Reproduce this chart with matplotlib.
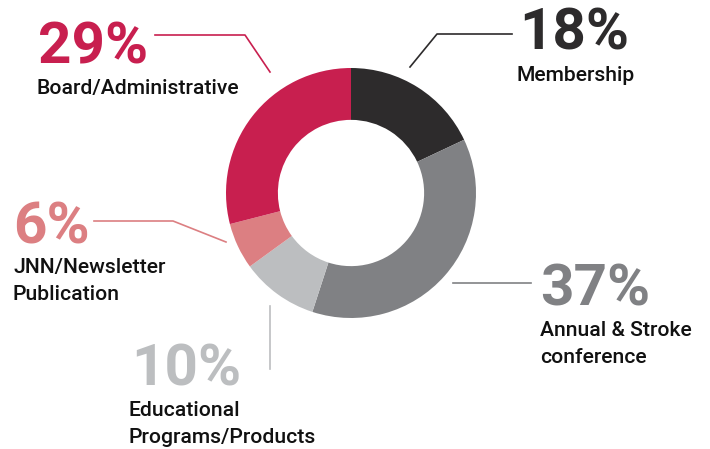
import matplotlib
matplotlib.use("Agg")
import matplotlib.pyplot as plt

# expense share per category (clockwise from 12 o'clock)
categories = ["Membership", "Annual & Stroke\nconference", "Educational\nPrograms/Products",
              "JNN/Newsletter\nPublication", "Board/Administrative"]
shares = [18, 37, 10, 6, 29]
colors = ["#2d2b2c", "#808184", "#bcbec0", "#dc7f82", "#c81f4f"]

plt.rcParams['font.family'] = ['Roboto', 'DejaVu Sans']

W, H = 710, 449
fig = plt.figure(figsize=(W / 100, H / 100), dpi=100)
ax = fig.add_axes([0, 0, 1, 1])
ax.set_xlim(0, W)
ax.set_ylim(0, H)
ax.set_aspect('equal')
ax.axis('off')


def py(y):
    # convert from top-down pixel rows
    return H - y


cx, cy, r = 351, 193, 125
ax.pie(shares, colors=colors, startangle=90, counterclock=False,
       center=(cx, py(cy)), radius=r,
       wedgeprops=dict(width=r * 0.415, linewidth=0))
ax.set_xlim(0, W)
ax.set_ylim(0, H)

# label placement: (pct x, pct baseline, label x, first label baseline)
label_pos = [
    (519, 50, 517, 81),
    (540, 305, 540, 336),
    (131, 385, 128, 416),
    (13, 243, 13, 273),
    (38, 64, 37, 94),
]
leaders = [
    [(512, 34), (437, 34), (410, 67)],
    [(531, 283), (453, 283)],
    [(270, 306), (270, 369)],
    [(94, 221), (173, 221), (226, 242)],
    [(155, 35), (245, 35), (270, 72)],
]

for name, val, col, (px, pb, lx, lb), pts in zip(categories, shares, colors, label_pos, leaders):
    ax.text(px, py(pb), f"{val}%", color=col, fontsize=42, fontweight='bold',
            ha='left', va='baseline')
    for i, line in enumerate(name.split("\n")):
        ax.text(lx, py(lb + 27 * i), line, color="#111111", fontsize=15.2,
                fontweight='medium', ha='left', va='baseline')
    xs = [p[0] for p in pts]
    ys = [py(p[1]) for p in pts]
    ax.plot(xs, ys, color=col, linewidth=1.2)

fig.savefig("out.png", dpi=100)
